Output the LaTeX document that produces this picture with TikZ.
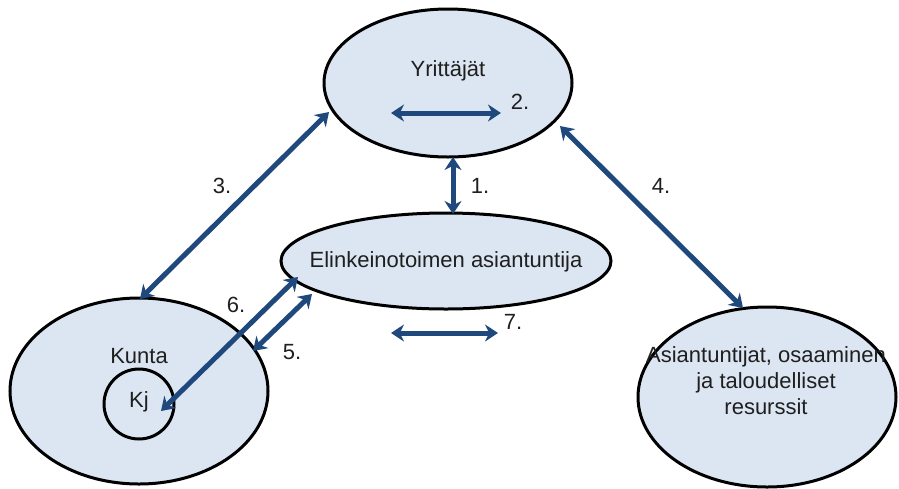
\documentclass[tikz,border=0pt]{standalone}
\usepackage{fontspec}
\setmainfont{Liberation Sans}
\usetikzlibrary{arrows.meta}
\definecolor{fillblue}{RGB}{220,230,242}
\definecolor{arrowblue}{RGB}{31,73,125}
\begin{document}
\begin{tikzpicture}[x=1pt,y=-1pt,
  bubble/.style={draw=black,line width=3pt,fill=fillblue},
  link/.style={draw=arrowblue,line width=5pt,{Stealth[length=13pt,width=17pt]}-{Stealth[length=13pt,width=17pt]}},
  lbl/.style={font=\fontsize{22}{26}\selectfont,text=black!88,inner sep=0pt},
  num/.style={font=\fontsize{22}{26}\selectfont,text=black!88,inner sep=0pt}]
\useasboundingbox (0,0) rectangle (899,488);
% bubbles
\draw[bubble] (448,83) ellipse [x radius=124,y radius=74];
\draw[bubble] (446,261) ellipse [x radius=165,y radius=48];
\draw[bubble] (139,391) ellipse [x radius=129,y radius=93];
\draw[bubble] (139,404) circle [radius=35];
\draw[bubble] (767,397) ellipse [x radius=129,y radius=90];
% texts
\node[lbl] (yr) at (448,71) {Yrittäjät};
\node[lbl] (el) at (446,262) {Elinkeinotoimen asiantuntija};
\node[lbl] (ku) at (139,356) {Kunta};
\node[lbl] (kj) at (139,402) {Kj};
\node[lbl,align=center,font=\fontsize{22}{26}\selectfont] (as) at (766,381) {Asiantuntijat, osaaminen\\ja taloudelliset\\resurssit};
% arrow end points
\coordinate (a2) at (391,113); \coordinate (b2) at (501,113);
\coordinate (a1) at (453,157); \coordinate (b1) at (453,214);
\coordinate (a3) at (329,112); \coordinate (b3) at (140,299);
\coordinate (a4) at (560,126); \coordinate (b4) at (743,308);
\coordinate (a6) at (298,277); \coordinate (b6) at (161,411);
\coordinate (a5) at (312,294); \coordinate (b5) at (253,351);
\coordinate (a7) at (391,333); \coordinate (b7) at (498,333);
% connectors
\draw[link] (a2) -- (b2);
\draw[link] (a1) -- (b1);
\draw[link] (a3) -- (b3);
\draw[link] (a4) -- (b4);
\draw[link] (a6) -- (b6);
\draw[link] (a5) -- (b5);
\draw[link] (a7) -- (b7);
% numbers
\node[num] (n1) at (480,186) {1.};
\node[num] (n2) at (520,102) {2.};
\node[num] (n3) at (222,186) {3.};
\node[num] (n4) at (661,186) {4.};
\node[num] (n5) at (292,352) {5.};
\node[num] (n6) at (236,305) {6.};
\node[num] (n7) at (513,322) {7.};
\end{tikzpicture}
\end{document}
